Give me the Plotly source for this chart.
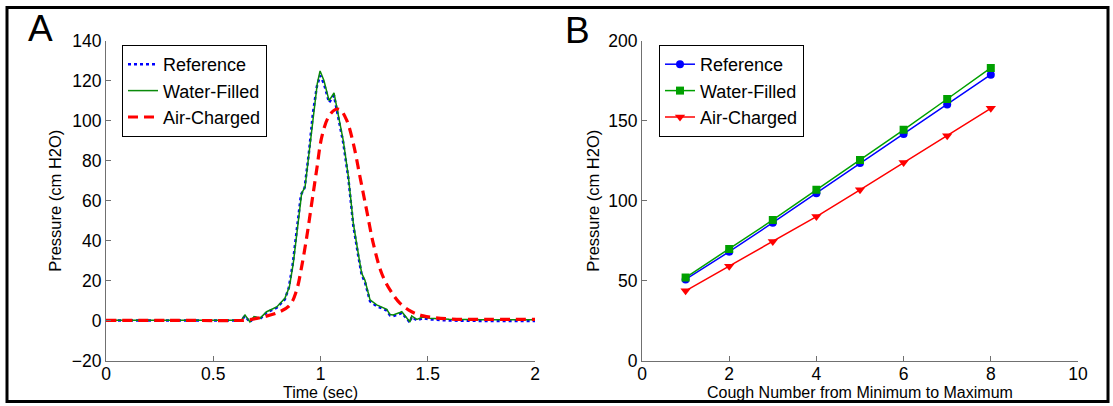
import plotly.graph_objects as go

# ---------------- Panel A data (time in s, pressure in cm H2O) ----------------
t_water = [0.0, 0.3, 0.6, 0.63, 0.648, 0.671, 0.69, 0.718, 0.749, 0.796, 0.834, 0.855,
           0.873, 0.897, 0.912, 0.928, 0.948, 0.967, 0.985, 0.998, 1.016, 1.04, 1.063,
           1.083, 1.106, 1.13, 1.153, 1.176, 1.192, 1.207, 1.231, 1.262, 1.309, 1.324,
           1.339, 1.37, 1.379, 1.417, 1.425, 1.449, 1.478, 1.51, 1.6, 1.75, 1.9, 2.0]
p_water = [0.3, 0.4, 0.3, 0.3, 3.0, -0.5, 2.2, 1.3, 4.6, 7.0, 11.3, 17.0,
           28.7, 48.7, 63.6, 67.0, 85.0, 105.0, 118.5, 124.8, 120.0, 110.0, 113.8,
           102.7, 90.2, 72.0, 48.7, 33.7, 23.8, 20.4, 10.5, 8.0, 5.8, 3.2,
           3.0, 4.2, 4.6, -0.5, 2.5, 0.8, 2.0, 1.3, 0.8, 0.6, 0.7, 0.6]

t_ref = [0.0, 0.3, 0.6, 0.63, 0.648, 0.671, 0.69, 0.718, 0.749, 0.796, 0.834, 0.852,
         0.870, 0.894, 0.909, 0.926, 0.946, 0.965, 0.983, 0.998, 1.016, 1.04, 1.063,
         1.083, 1.106, 1.13, 1.153, 1.176, 1.192, 1.207, 1.231, 1.262, 1.309, 1.324,
         1.339, 1.37, 1.379, 1.417, 1.425, 1.449, 1.478, 1.51, 1.6, 1.75, 1.9, 2.0]
p_ref = [0.2, 0.2, 0.1, 0.2, 2.5, -0.6, 1.8, 1.0, 4.2, 6.6, 10.8, 16.5,
         28.0, 48.0, 63.0, 66.5, 84.0, 104.0, 117.0, 122.5, 118.5, 109.0, 112.5,
         101.5, 89.0, 71.0, 47.5, 32.5, 23.0, 19.5, 9.8, 7.4, 5.2, 2.8,
         2.4, 3.6, 4.0, -0.8, 2.0, 0.3, 1.4, 0.8, 0.2, 0.0, 0.1, 0.0]

t_air = [0.0, 0.3, 0.578, 0.65, 0.733, 0.811, 0.858, 0.889, 0.912, 0.936, 0.959, 0.982,
         1.006, 1.037, 1.068, 1.091, 1.122, 1.153, 1.184, 1.215, 1.246, 1.285, 1.324,
         1.371, 1.425, 1.479, 1.6, 1.8, 2.0]
p_air = [0.3, 0.3, 0.2, 0.4, 2.0, 4.6, 8.0, 15.5, 27.0, 42.0, 58.7, 75.3,
         91.9, 101.8, 105.5, 105.5, 100.2, 88.6, 72.0, 55.3, 38.7, 23.8, 15.5,
         8.8, 4.6, 2.5, 1.0, 0.8, 0.8]

# ---------------- Panel B data ----------------
cough_no = [1, 2, 3, 4, 5, 6, 7, 8]
b_reference = [50.9, 68.2, 86.3, 104.7, 123.5, 141.6, 160.0, 178.7]
b_water = [52.1, 69.9, 88.0, 106.8, 125.5, 144.3, 163.5, 182.9]
b_air = [43.8, 59.2, 74.5, 90.1, 106.8, 123.9, 140.6, 157.7]

W, H = 1113, 406
FONT = "Arial, Liberation Sans, sans-serif"

fig = go.Figure()

# Panel A traces
fig.add_trace(go.Scatter(x=t_ref, y=p_ref, mode="lines", name="Reference",
                         line=dict(color="#0000ff", width=2.5, dash="3px,3px"),
                         xaxis="x", yaxis="y", legend="legend"))
fig.add_trace(go.Scatter(x=t_water, y=p_water, mode="lines", name="Water-Filled",
                         line=dict(color="#0a8a0a", width=1.5),
                         xaxis="x", yaxis="y", legend="legend"))
fig.add_trace(go.Scatter(x=t_air, y=p_air, mode="lines", name="Air-Charged",
                         line=dict(color="#ff0000", width=3.2, dash="10px,6px", shape="spline"),
                         xaxis="x", yaxis="y", legend="legend"))

# Panel B traces
fig.add_trace(go.Scatter(x=cough_no, y=b_reference, mode="lines+markers", name="Reference",
                         line=dict(color="#0000ff", width=1.5),
                         marker=dict(symbol="circle", size=8, color="#0000ff"),
                         xaxis="x2", yaxis="y2", legend="legend2"))
fig.add_trace(go.Scatter(x=cough_no, y=b_water, mode="lines+markers", name="Water-Filled",
                         line=dict(color="#00a000", width=1.5),
                         marker=dict(symbol="square", size=8, color="#00a000"),
                         xaxis="x2", yaxis="y2", legend="legend2"))
fig.add_trace(go.Scatter(x=cough_no, y=b_air, mode="lines+markers", name="Air-Charged",
                         line=dict(color="#ff0000", width=1.5),
                         marker=dict(symbol="triangle-down", size=9, color="#ff0000"),
                         xaxis="x2", yaxis="y2", legend="legend2"))

axis_common = dict(showline=True, linecolor="#707070", linewidth=1, mirror=False,
                   ticks="inside", ticklen=5, tickcolor="#707070", tickwidth=1,
                   showgrid=False, zeroline=False, automargin=False,
                   tickfont=dict(family=FONT, size=17.5, color="black"))
xaxis_extra = dict(ticklabelstandoff=-3)

ax_a_x = [106 / W, 535 / W]
ax_b_x = [642 / W, 1078 / W]
ax_y = [1 - 361 / H, 1 - 40.5 / H]

fig.update_layout(
    width=W, height=H,
    margin=dict(l=0, r=0, t=0, b=0, pad=0, autoexpand=False),
    paper_bgcolor="white", plot_bgcolor="white",
    font=dict(family=FONT, color="black"),
    xaxis=dict(domain=ax_a_x, range=[0, 2], tickvals=[0, 0.5, 1, 1.5, 2],
               ticktext=["0", "0.5", "1", "1.5", "2"], anchor="y", **axis_common, **xaxis_extra),
    yaxis=dict(domain=ax_y, range=[-20, 140], tickvals=[-20, 0, 20, 40, 60, 80, 100, 120, 140],
               anchor="x",
               title=dict(text="Pressure (cm H2O)", font=dict(family=FONT, size=16.5), standoff=6),
               **axis_common),
    xaxis2=dict(domain=ax_b_x, range=[0, 10], tickvals=[0, 2, 4, 6, 8, 10], anchor="y2",
                **axis_common, **xaxis_extra),
    yaxis2=dict(domain=ax_y, range=[0, 200], tickvals=[0, 50, 100, 150, 200], anchor="x2",
                title=dict(text="Pressure (cm H2O)", font=dict(family=FONT, size=16.5), standoff=4),
                **axis_common),
    legend=dict(x=122 / W, y=1 - 45 / H, xanchor="left", yanchor="top",
                bgcolor="white", bordercolor="black", borderwidth=1,
                font=dict(family=FONT, size=18, color="black"), tracegroupgap=0),
    legend2=dict(x=659 / W, y=1 - 45 / H, xanchor="left", yanchor="top",
                 bgcolor="white", bordercolor="black", borderwidth=1,
                 font=dict(family=FONT, size=18, color="black"), tracegroupgap=0),
    showlegend=True,
)

# x-axis titles placed just under tick labels
fig.add_annotation(text="Time (sec)", xref="x domain", yref="paper", x=0.5, y=1 - 392.5 / H,
                   showarrow=False, xanchor="center", yanchor="middle",
                   font=dict(family=FONT, size=16, color="black"))
fig.add_annotation(text="Cough Number from Minimum to Maximum", xref="x2 domain", yref="paper",
                   x=0.5, y=1 - 392.5 / H, showarrow=False, xanchor="center", yanchor="middle",
                   font=dict(family=FONT, size=16, color="black"))

# outer frame
fig.add_shape(type="rect", xref="paper", yref="paper",
              x0=7 / W, x1=1108 / W, y0=1 - 401.5 / H, y1=1 - 7.5 / H,
              line=dict(color="black", width=3))

# panel letters
fig.add_annotation(text="A", xref="paper", yref="paper", x=40 / W, y=1 - 29 / H,
                   showarrow=False, font=dict(family=FONT, size=37, color="black"),
                   xanchor="center", yanchor="middle")
fig.add_annotation(text="B", xref="paper", yref="paper", x=577 / W, y=1 - 31 / H,
                   showarrow=False, font=dict(family=FONT, size=37, color="black"),
                   xanchor="center", yanchor="middle")

fig.write_html("out.html",
               config={"displayModeBar": False},
               post_script="document.body.style.margin='0';document.body.style.padding='0';")
